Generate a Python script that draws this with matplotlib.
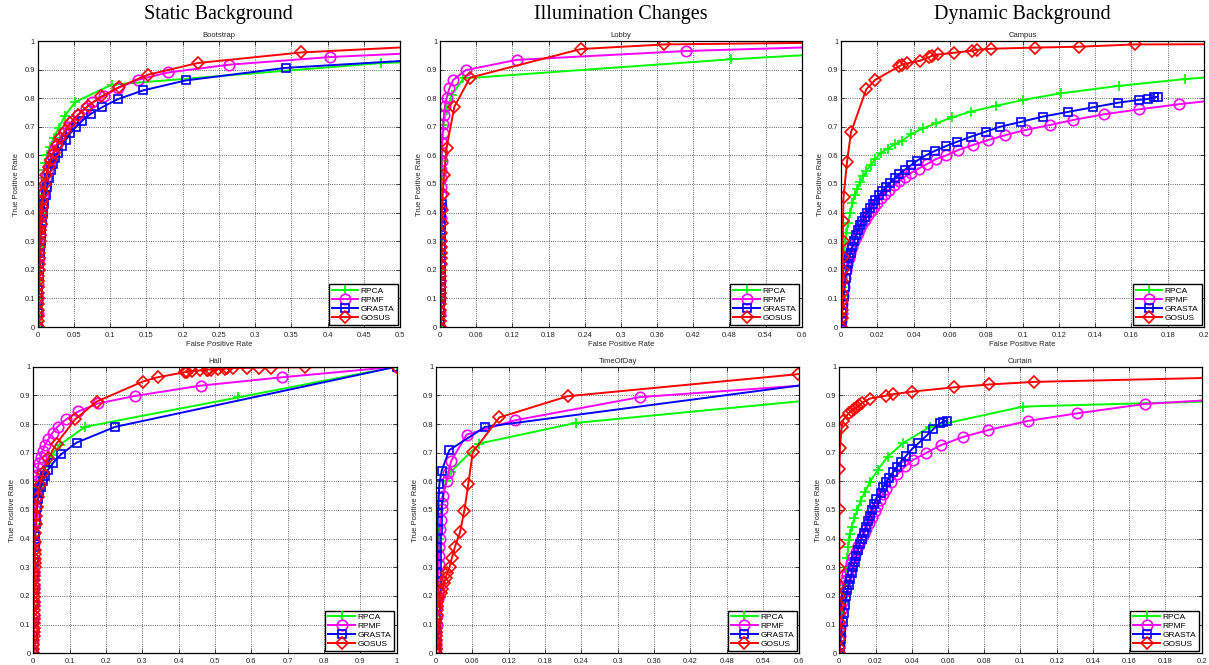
import numpy as np
import matplotlib
matplotlib.use("Agg")
import matplotlib.pyplot as plt

plt.rcParams['font.family'] = ['Liberation Sans', 'DejaVu Sans']

# method names and styles (MATLAB-like)
methods = ['RPCA', 'RPMF', 'GRASTA', 'GOSUS']
colors = ['#00ff00', '#ff00ff', '#0000ff', '#ff0000']
markers = ['+', 'o', 's', 'D']

# group titles and sequence names
group_titles = ['Static Background', 'Illumination Changes', 'Dynamic Background']
seq_names = ['Bootstrap', 'Lobby', 'Campus', 'Hall', 'TimeOfDay', 'Curtain']
x_max = [0.5, 0.6, 0.2, 1.0, 0.6, 0.2]

# ---- Bootstrap (FPR, TPR) ----
boot_rpca = [(0, 0), (0.0001, 0.02), (0.0002, 0.04), (0.0004, 0.07), (0.0006, 0.10), (0.0008, 0.13),
             (0.001, 0.16), (0.0012, 0.19), (0.0015, 0.22), (0.0018, 0.25), (0.002, 0.28), (0.0025, 0.31),
             (0.003, 0.34), (0.0035, 0.37), (0.004, 0.40), (0.0048, 0.43), (0.0055, 0.46), (0.0065, 0.49),
             (0.0075, 0.52), (0.009, 0.55), (0.0107, 0.574), (0.013, 0.602), (0.0167, 0.631), (0.022, 0.661),
             (0.029, 0.696), (0.0375, 0.739), (0.052, 0.787), (0.102, 0.847), (0.474, 0.923), (0.8, 0.95)]
boot_rpmf = [(0, 0), (0.0002, 0.05), (0.0004, 0.10), (0.0007, 0.15), (0.001, 0.20), (0.0015, 0.24),
             (0.0022, 0.28), (0.003, 0.32), (0.004, 0.36), (0.005, 0.40), (0.0065, 0.43), (0.008, 0.46),
             (0.01, 0.49), (0.012, 0.52), (0.014, 0.55), (0.017, 0.58), (0.02, 0.60), (0.023, 0.62),
             (0.027, 0.64), (0.031, 0.66), (0.036, 0.68), (0.042, 0.70), (0.048, 0.72), (0.055, 0.74),
             (0.066, 0.766), (0.0755, 0.785), (0.091, 0.806), (0.111, 0.836), (0.139, 0.865), (0.18, 0.89),
             (0.264, 0.917), (0.404, 0.944), (0.6, 0.967)]
boot_grasta = [(0, 0), (0.0003, 0.05), (0.0006, 0.09), (0.001, 0.13), (0.0016, 0.18), (0.0023, 0.22),
               (0.003, 0.26), (0.004, 0.30), (0.005, 0.34), (0.006, 0.37), (0.0075, 0.40), (0.009, 0.43),
               (0.011, 0.46), (0.013, 0.49), (0.015, 0.52), (0.018, 0.55), (0.021, 0.57), (0.024, 0.59),
               (0.028, 0.61), (0.033, 0.633), (0.039, 0.655), (0.045, 0.678), (0.053, 0.70), (0.0617, 0.722),
               (0.073, 0.745), (0.0894, 0.769), (0.111, 0.797), (0.145, 0.827), (0.204, 0.862),
               (0.342, 0.906), (0.6, 0.945)]
boot_gosus = [(0, 0), (0.0001, 0.02), (0.0002, 0.04), (0.0003, 0.06), (0.0004, 0.08), (0.0005, 0.10),
              (0.0006, 0.12), (0.0008, 0.14), (0.0009, 0.16), (0.001, 0.18), (0.0012, 0.20), (0.0014, 0.22),
              (0.0016, 0.24), (0.0019, 0.26), (0.0022, 0.28), (0.0026, 0.30), (0.003, 0.32), (0.0035, 0.34),
              (0.004, 0.36), (0.0045, 0.38), (0.005, 0.40), (0.0058, 0.42), (0.0065, 0.44), (0.008, 0.47),
              (0.01, 0.50), (0.012, 0.53), (0.015, 0.56), (0.018, 0.585), (0.022, 0.61), (0.026, 0.635),
              (0.031, 0.66), (0.038, 0.685), (0.045, 0.713), (0.0556, 0.742), (0.07, 0.774), (0.088, 0.806),
              (0.1125, 0.839), (0.152, 0.882), (0.221, 0.923), (0.364, 0.96), (0.6, 0.99)]

# ---- Lobby ----
lobby_rpca = [(0, 0), (0.0001, 0.05), (0.0002, 0.10), (0.0004, 0.15), (0.0006, 0.20), (0.0008, 0.25),
              (0.001, 0.30), (0.0012, 0.35), (0.0015, 0.40), (0.0018, 0.45), (0.002, 0.50), (0.0025, 0.54),
              (0.003, 0.58), (0.0035, 0.62), (0.004, 0.66), (0.0055, 0.706), (0.011, 0.758), (0.0194, 0.811),
              (0.0387, 0.869), (0.483, 0.936), (0.8, 0.974)]
lobby_rpmf = [(0, 0), (0.0001, 0.05), (0.0002, 0.10), (0.0003, 0.16), (0.0004, 0.22), (0.0006, 0.28),
              (0.0008, 0.33), (0.001, 0.38), (0.0012, 0.42), (0.0015, 0.46), (0.0018, 0.49), (0.002, 0.52),
              (0.0024, 0.55), (0.0027, 0.58), (0.003, 0.61), (0.0033, 0.642), (0.0044, 0.677), (0.0055, 0.711),
              (0.0066, 0.741), (0.0083, 0.773), (0.011, 0.80), (0.0155, 0.834), (0.022, 0.864), (0.0426, 0.898),
              (0.127, 0.934), (0.408, 0.965), (0.8, 0.99)]
lobby_grasta = [(0, 0), (0.0003, 0.02), (0.0005, 0.04), (0.0007, 0.06), (0.0008, 0.08), (0.001, 0.10),
                (0.0011, 0.12), (0.0012, 0.14), (0.0013, 0.16), (0.0014, 0.18), (0.0015, 0.20), (0.0016, 0.22),
                (0.0017, 0.24), (0.0018, 0.26), (0.0019, 0.28), (0.002, 0.30), (0.0021, 0.32), (0.0021, 0.34),
                (0.0022, 0.36), (0.0023, 0.38), (0.0023, 0.40), (0.0024, 0.415), (0.0025, 0.43)]
lobby_gosus = [(0, 0), (0.0001, 0.02), (0.0002, 0.04), (0.0003, 0.06), (0.0004, 0.08), (0.0005, 0.10),
               (0.0006, 0.12), (0.0006, 0.14), (0.0007, 0.16), (0.0008, 0.18), (0.0008, 0.20), (0.0009, 0.22),
               (0.001, 0.24), (0.0011, 0.26), (0.0012, 0.28), (0.0014, 0.30), (0.0017, 0.327), (0.0025, 0.365),
               (0.0033, 0.408), (0.0045, 0.465), (0.0066, 0.531), (0.011, 0.627), (0.0238, 0.77),
               (0.0498, 0.872), (0.234, 0.972), (0.372, 0.988), (0.8, 0.998)]

# ---- Campus ----
campus_rpca = [(0, 0), (0.0001, 0.02), (0.0002, 0.05), (0.0004, 0.08), (0.0006, 0.11), (0.0008, 0.14),
               (0.001, 0.17), (0.0012, 0.20), (0.0015, 0.23), (0.0018, 0.26), (0.0022, 0.292), (0.003, 0.327),
               (0.0038, 0.362), (0.005, 0.397), (0.0062, 0.432), (0.0075, 0.461), (0.009, 0.484),
               (0.0104, 0.507), (0.0123, 0.527), (0.014, 0.547), (0.0163, 0.567), (0.019, 0.587),
               (0.0218, 0.607), (0.0258, 0.624), (0.030, 0.64), (0.0335, 0.65), (0.0384, 0.674),
               (0.0454, 0.695), (0.0523, 0.712), (0.0613, 0.733), (0.0714, 0.753), (0.0853, 0.773),
               (0.1003, 0.794), (0.121, 0.817), (0.153, 0.843), (0.1896, 0.867), (0.3, 0.92)]
campus_rpmf = [(0, 0), (0.0002, 0.02), (0.0004, 0.05), (0.0007, 0.08), (0.0011, 0.11), (0.0016, 0.14),
               (0.0021, 0.17), (0.0027, 0.20), (0.0034, 0.22), (0.0042, 0.24), (0.0051, 0.26), (0.0061, 0.28),
               (0.0071, 0.30), (0.0082, 0.315), (0.0093, 0.33), (0.0105, 0.345), (0.0118, 0.36), (0.0132, 0.375),
               (0.0147, 0.39), (0.0163, 0.405), (0.018, 0.42), (0.02, 0.435), (0.022, 0.45), (0.024, 0.465),
               (0.0265, 0.48), (0.029, 0.495), (0.032, 0.51), (0.035, 0.525), (0.0386, 0.539), (0.0428, 0.554),
               (0.0474, 0.57), (0.0523, 0.587), (0.058, 0.60), (0.0647, 0.619), (0.0725, 0.636),
               (0.0808, 0.653), (0.0906, 0.671), (0.1017, 0.689), (0.1149, 0.706), (0.128, 0.724),
               (0.1451, 0.744), (0.1643, 0.761), (0.1863, 0.779), (0.3, 0.86)]
campus_grasta = [(0, 0), (0.0003, 0.02), (0.0006, 0.05), (0.001, 0.08), (0.0015, 0.11), (0.002, 0.14),
                 (0.0025, 0.17), (0.0031, 0.20), (0.0038, 0.22), (0.0045, 0.24), (0.0053, 0.26), (0.0062, 0.28),
                 (0.0072, 0.30), (0.0082, 0.32), (0.0093, 0.34), (0.0105, 0.355), (0.0117, 0.37), (0.013, 0.385),
                 (0.0145, 0.40), (0.016, 0.415), (0.0175, 0.43), (0.019, 0.445), (0.021, 0.46), (0.0228, 0.475),
                 (0.025, 0.49), (0.027, 0.505), (0.0295, 0.52), (0.032, 0.535), (0.035, 0.549), (0.0384, 0.565),
                 (0.042, 0.582), (0.0467, 0.60), (0.0518, 0.616), (0.0576, 0.632), (0.064, 0.648),
                 (0.0714, 0.665), (0.0798, 0.683), (0.0875, 0.70), (0.099, 0.717), (0.1115, 0.736),
                 (0.125, 0.752), (0.1387, 0.768), (0.1524, 0.784), (0.164, 0.794), (0.1689, 0.797),
                 (0.1724, 0.803), (0.1744, 0.805)]
campus_gosus = [(0, 0), (0.0003, 0.03), (0.0005, 0.06), (0.0006, 0.09), (0.0007, 0.12), (0.0008, 0.16),
                (0.0009, 0.20), (0.001, 0.245), (0.001, 0.30), (0.0011, 0.372), (0.0014, 0.456),
                (0.0033, 0.576), (0.0055, 0.681), (0.0139, 0.831), (0.0188, 0.864), (0.0322, 0.912),
                (0.0335, 0.917), (0.0366, 0.922), (0.0435, 0.931), (0.0486, 0.944), (0.05, 0.948),
                (0.0536, 0.953), (0.0624, 0.959), (0.072, 0.966), (0.0747, 0.969), (0.0829, 0.973),
                (0.107, 0.977), (0.131, 0.98), (0.162, 0.988), (0.3, 0.99)]

# ---- Hall ----
hall_rpca = [(0, 0), (0.0003, 0.06), (0.0006, 0.11), (0.001, 0.17), (0.0015, 0.22), (0.0022, 0.27),
             (0.003, 0.32), (0.004, 0.37), (0.005, 0.41), (0.006, 0.45), (0.008, 0.49), (0.01, 0.52),
             (0.013, 0.55), (0.017, 0.58), (0.022, 0.61), (0.028, 0.64), (0.0367, 0.663), (0.0506, 0.692),
             (0.0735, 0.728), (0.142, 0.79), (0.564, 0.893), (1.0, 1.0)]
hall_rpmf = [(0, 0), (0.0002, 0.04), (0.0004, 0.08), (0.0006, 0.13), (0.0009, 0.18), (0.0012, 0.23),
             (0.0015, 0.28), (0.002, 0.33), (0.0025, 0.38), (0.003, 0.42), (0.0038, 0.46), (0.0045, 0.50),
             (0.0055, 0.54), (0.0065, 0.57), (0.008, 0.60), (0.0093, 0.622), (0.012, 0.645), (0.0158, 0.665),
             (0.020, 0.686), (0.0258, 0.707), (0.032, 0.727), (0.041, 0.746), (0.053, 0.77), (0.067, 0.791),
             (0.09, 0.816), (0.124, 0.844), (0.179, 0.872), (0.28, 0.898), (0.461, 0.934), (0.684, 0.963),
             (1.0, 1.0)]
hall_grasta = [(0, 0), (0.0003, 0.06), (0.0006, 0.11), (0.001, 0.17), (0.0015, 0.22), (0.0022, 0.27),
               (0.003, 0.32), (0.004, 0.37), (0.005, 0.41), (0.0065, 0.45), (0.008, 0.48), (0.01, 0.51),
               (0.013, 0.54), (0.016, 0.56), (0.02, 0.58), (0.0258, 0.60), (0.0315, 0.62), (0.041, 0.641),
               (0.055, 0.665), (0.0763, 0.694), (0.119, 0.735), (0.225, 0.79), (1.0, 1.0)]
hall_gosus = [(0, 0), (0.0002, 0.015), (0.0004, 0.03), (0.0005, 0.045), (0.0007, 0.06), (0.0008, 0.075),
              (0.001, 0.09), (0.0011, 0.105), (0.0012, 0.12), (0.0013, 0.135), (0.0015, 0.15), (0.0016, 0.165),
              (0.0018, 0.18), (0.0019, 0.195), (0.002, 0.21), (0.0022, 0.225), (0.0025, 0.24), (0.0028, 0.255),
              (0.003, 0.27), (0.0033, 0.285), (0.0035, 0.30), (0.0038, 0.315), (0.004, 0.33), (0.0043, 0.345),
              (0.0045, 0.36), (0.005, 0.39), (0.006, 0.42), (0.007, 0.45), (0.008, 0.48), (0.0093, 0.512),
              (0.0125, 0.547), (0.018, 0.588), (0.026, 0.628), (0.041, 0.68), (0.064, 0.732), (0.115, 0.816),
              (0.174, 0.878), (0.301, 0.948), (0.342, 0.963), (0.418, 0.981), (0.422, 0.983), (0.436, 0.985),
              (0.459, 0.987), (0.477, 0.988), (0.482, 0.99), (0.488, 0.99), (0.509, 0.992), (0.527, 0.993),
              (0.532, 0.994), (0.549, 0.995), (0.587, 0.996), (0.62, 0.997), (0.654, 0.997), (0.748, 0.998),
              (1.0, 1.0)]

# ---- TimeOfDay ----
tod_rpca = [(0, 0), (0.0005, 0.04), (0.001, 0.08), (0.0015, 0.12), (0.002, 0.16), (0.0025, 0.20),
            (0.003, 0.24), (0.0035, 0.28), (0.004, 0.32), (0.0045, 0.36), (0.005, 0.40), (0.0055, 0.436),
            (0.01, 0.53), (0.016, 0.60), (0.0243, 0.633), (0.0716, 0.732), (0.2313, 0.804), (0.8, 0.92)]
tod_rpmf = [(0, 0), (0.0002, 0.02), (0.0004, 0.04), (0.0007, 0.07), (0.001, 0.10), (0.0015, 0.13),
            (0.002, 0.16), (0.0025, 0.19), (0.003, 0.22), (0.0035, 0.25), (0.004, 0.28), (0.0045, 0.31),
            (0.005, 0.34), (0.0055, 0.37), (0.006, 0.40), (0.0066, 0.432), (0.0077, 0.465), (0.0094, 0.502),
            (0.0105, 0.525), (0.012, 0.549), (0.0176, 0.601), (0.0204, 0.63), (0.0248, 0.67),
            (0.0507, 0.763), (0.1305, 0.813), (0.3369, 0.894), (0.8, 0.964)]
tod_grasta = [(0, 0), (0.0002, 0.04), (0.0003, 0.08), (0.0004, 0.12), (0.0006, 0.16), (0.0008, 0.19),
              (0.001, 0.22), (0.0012, 0.25), (0.0014, 0.28), (0.0016, 0.31), (0.0018, 0.34), (0.002, 0.37),
              (0.0023, 0.40), (0.0025, 0.43), (0.0028, 0.46), (0.0033, 0.489), (0.0039, 0.518),
              (0.0044, 0.547), (0.0055, 0.59), (0.0094, 0.637), (0.022, 0.709), (0.081, 0.79), (0.8, 0.99)]
tod_gosus = [(0, 0), (0.0001, 0.015), (0.0002, 0.03), (0.0003, 0.045), (0.0004, 0.06), (0.0005, 0.075),
             (0.0006, 0.09), (0.0007, 0.105), (0.0008, 0.12), (0.0009, 0.135), (0.001, 0.15), (0.0012, 0.165),
             (0.0015, 0.18), (0.002, 0.19), (0.005, 0.197), (0.0077, 0.209), (0.0105, 0.226), (0.0132, 0.244),
             (0.016, 0.262), (0.018, 0.279), (0.0226, 0.302), (0.0259, 0.331), (0.0314, 0.372),
             (0.0396, 0.422), (0.0468, 0.498), (0.0534, 0.591), (0.0606, 0.701), (0.1046, 0.823),
             (0.2175, 0.897), (0.598, 0.974), (0.7, 0.995)]

# ---- Curtain ----
curtain_rpca = [(0, 0), (0.0003, 0.03), (0.0006, 0.06), (0.001, 0.10), (0.0015, 0.14), (0.002, 0.18),
                (0.0025, 0.21), (0.003, 0.24), (0.0035, 0.27), (0.004, 0.30), (0.0045, 0.331), (0.0048, 0.371),
                (0.0053, 0.395), (0.006, 0.416), (0.0068, 0.442), (0.0083, 0.471), (0.01, 0.50),
                (0.0118, 0.533), (0.0142, 0.564), (0.017, 0.599), (0.0212, 0.64), (0.0267, 0.686),
                (0.0353, 0.734), (0.05, 0.79), (0.1016, 0.861), (0.3, 0.895)]
curtain_rpmf = [(0, 0), (0.0001, 0.03), (0.0003, 0.06), (0.0005, 0.09), (0.0007, 0.12), (0.001, 0.15),
                (0.0014, 0.18), (0.002, 0.21), (0.0027, 0.235), (0.0035, 0.255), (0.0044, 0.275),
                (0.0054, 0.295), (0.0065, 0.315), (0.0077, 0.335), (0.009, 0.355), (0.0105, 0.375),
                (0.012, 0.395), (0.0135, 0.415), (0.015, 0.435), (0.0165, 0.455), (0.018, 0.475),
                (0.0195, 0.495), (0.021, 0.515), (0.0225, 0.535), (0.024, 0.555), (0.0258, 0.575),
                (0.0284, 0.598), (0.032, 0.624), (0.0363, 0.652), (0.0408, 0.675), (0.0477, 0.698),
                (0.056, 0.726), (0.0684, 0.755), (0.0822, 0.779), (0.1043, 0.811), (0.131, 0.837),
                (0.1687, 0.87), (0.3, 0.92)]
curtain_grasta = [(0, 0), (0.0003, 0.02), (0.0007, 0.05), (0.0012, 0.08), (0.0018, 0.11), (0.0025, 0.14),
                  (0.0031, 0.17), (0.0038, 0.20), (0.0045, 0.22), (0.0052, 0.24), (0.006, 0.26), (0.0068, 0.28),
                  (0.0076, 0.30), (0.0085, 0.32), (0.0094, 0.34), (0.0103, 0.36), (0.0113, 0.38),
                  (0.0123, 0.40), (0.0134, 0.42), (0.0145, 0.44), (0.0156, 0.46), (0.0168, 0.48),
                  (0.018, 0.50), (0.0192, 0.52), (0.0205, 0.54), (0.0228, 0.56), (0.0243, 0.58),
                  (0.0258, 0.596), (0.0276, 0.613), (0.0295, 0.631), (0.0317, 0.65), (0.034, 0.669),
                  (0.0369, 0.689), (0.04, 0.712), (0.0437, 0.733), (0.0479, 0.758), (0.0519, 0.782),
                  (0.0557, 0.803), (0.0575, 0.808), (0.0593, 0.811)]
curtain_gosus = [(0, 0), (0, 0.02), (0, 0.05), (0, 0.08), (0, 0.11), (0, 0.14), (0, 0.17), (0, 0.20),
                 (0, 0.239), (0, 0.296), (0, 0.381), (0, 0.503), (0, 0.643), (0.0004, 0.716), (0.0013, 0.79),
                 (0.0019, 0.812), (0.0055, 0.84), (0.0068, 0.846), (0.0081, 0.852), (0.0097, 0.858),
                 (0.0111, 0.866), (0.0124, 0.874), (0.017, 0.889), (0.0258, 0.899), (0.0298, 0.904),
                 (0.04, 0.913), (0.0633, 0.928), (0.0828, 0.938), (0.1076, 0.947), (0.3, 0.975)]

panels = [
    [boot_rpca, boot_rpmf, boot_grasta, boot_gosus],
    [lobby_rpca, lobby_rpmf, lobby_grasta, lobby_gosus],
    [campus_rpca, campus_rpmf, campus_grasta, campus_gosus],
    [hall_rpca, hall_rpmf, hall_grasta, hall_gosus],
    [tod_rpca, tod_rpmf, tod_grasta, tod_gosus],
    [curtain_rpca, curtain_rpmf, curtain_grasta, curtain_gosus],
]

W, H = 1209, 665
# axes boxes in pixels: left, top, width, height
boxes = [(37.7, 41, 362.3, 286), (440, 41, 361.7, 286), (841, 41, 363, 286),
         (33.3, 366.7, 363.3, 286.6), (436, 366.7, 363.3, 286.6), (839.3, 366.7, 362.3, 286.6)]

marker_size = {'+': 7, 'o': 7.5, 's': 6, 'D': 6}

fig = plt.figure(figsize=(W / 100, H / 100), dpi=100)
txt = '#262626'

for i, (curves, box) in enumerate(zip(panels, boxes)):
    l, t, w, h = box
    ax = fig.add_axes([l / W, (H - t - h) / H, w / W, h / H])
    for curve, name, c, m in zip(curves, methods, colors, markers):
        xy = np.array(curve)
        ax.plot(xy[:, 0], xy[:, 1], color=c, marker=m, markersize=marker_size[m],
                markerfacecolor='none', markeredgewidth=1.2, linewidth=1.4, label=name)
    xm = x_max[i]
    ax.set_xlim(0, xm)
    ax.set_ylim(0, 1)
    xt = np.linspace(0, xm, 11)
    ax.set_xticks(xt)
    ax.set_xticklabels(['%g' % round(v, 4) for v in xt])
    yt = np.linspace(0, 1, 11)
    ax.set_yticks(yt)
    ax.set_yticklabels(['%g' % round(v, 4) for v in yt])
    ax.tick_params(direction='in', length=3, width=0.6, labelsize=5.5, colors=txt,
                   top=True, right=True)
    ax.tick_params(axis='x', pad=3.5)
    ax.tick_params(axis='y', pad=2)
    ax.grid(True, linestyle=':', color='#333333', linewidth=0.6)
    for s in ax.spines.values():
        s.set_linewidth(0.9)
        s.set_color('black')
    ax.set_title(seq_names[i], fontsize=5.5, color=txt, pad=3)
    if i < 3:
        ax.set_xlabel('False Positive Rate', fontsize=5.5, color=txt, labelpad=1.5)
    ax.set_ylabel('True Positive Rate', fontsize=5.5, color=txt, labelpad=3)
    leg = ax.legend(loc='lower right', fontsize=6, handlelength=3.2, labelspacing=0.12,
                    borderpad=0.35, borderaxespad=0.3, fancybox=False, framealpha=1,
                    edgecolor='black', handletextpad=0.3)
    leg.get_frame().set_linewidth(1.0)
    if i < 3:
        fig.text((l + w / 2) / W, 1 - 14 / H, group_titles[i], ha='center', va='center',
                 fontsize=14.5, family='Liberation Serif')

fig.savefig('out.png', dpi=100)
